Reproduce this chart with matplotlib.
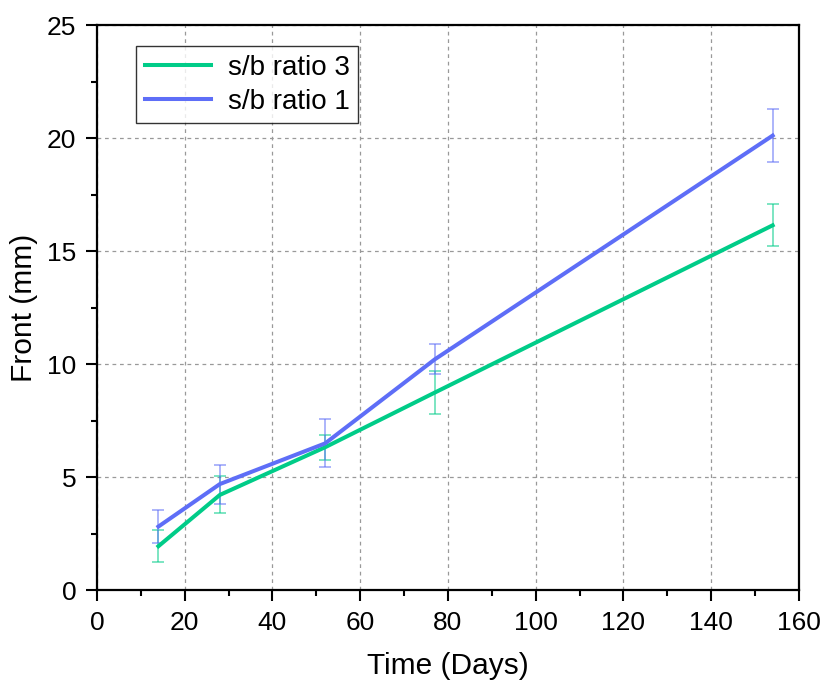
import numpy as np
import matplotlib
matplotlib.use("Agg")
import matplotlib.pyplot as plt
from matplotlib.ticker import MultipleLocator

plt.rcParams['font.family'] = ['Liberation Sans', 'DejaVu Sans']

days = [14, 28, 52, 77, 154]
front_r3 = [1.95, 4.22, 6.33, 8.75, 16.15]
err_r3 = [0.72, 0.82, 0.56, 0.94, 0.93]
front_r1 = [2.82, 4.70, 6.50, 10.22, 20.12]
err_r1 = [0.74, 0.86, 1.06, 0.66, 1.17]
labels = ['s/b ratio 3', 's/b ratio 1']

green = '#00CC88'
blue = '#5E6EF7'

fig = plt.figure(figsize=(8.22, 6.84), dpi=100)
ax = fig.add_axes([0.118, 0.137, 0.854, 0.826])

ax.errorbar(days, front_r3, yerr=err_r3, fmt='none', ecolor=green, alpha=0.65,
            elinewidth=1.1, capsize=4, capthick=1.1, zorder=2)
ax.errorbar(days, front_r1, yerr=err_r1, fmt='none', ecolor=blue, alpha=0.65,
            elinewidth=1.1, capsize=4, capthick=1.1, zorder=2)
ax.plot(days, front_r3, color=green, lw=2.9, label=labels[0], zorder=3)
ax.plot(days, front_r1, color=blue, lw=2.9, label=labels[1], zorder=3)

ax.set_xlim(0, 160)
ax.set_ylim(0, 25)
ax.xaxis.set_major_locator(MultipleLocator(20))
ax.xaxis.set_minor_locator(MultipleLocator(10))
ax.yaxis.set_major_locator(MultipleLocator(5))
ax.yaxis.set_minor_locator(MultipleLocator(2.5))
ax.tick_params(which='major', direction='out', length=8, width=1.5, labelsize=19, pad=7)
ax.tick_params(which='minor', direction='out', length=4, width=1.5)
ax.grid(True, which='major', color='#999999', ls=(0, (3, 3)), lw=0.9)
for s in ax.spines.values():
    s.set_linewidth(1.6)

ax.set_xlabel('Time (Days)', fontsize=21.5, labelpad=12)
ax.set_ylabel('Front (mm)', fontsize=21.5, labelpad=6)

leg = ax.legend(loc='upper left', bbox_to_anchor=(0.056, 0.963), fontsize=20,
                frameon=True, fancybox=False, edgecolor='black',
                handlelength=2.4, borderpad=0.3, labelspacing=0.3,
                handletextpad=0.6, borderaxespad=0)
leg.get_frame().set_linewidth(1.0)

fig.savefig('out.png', dpi=100)
